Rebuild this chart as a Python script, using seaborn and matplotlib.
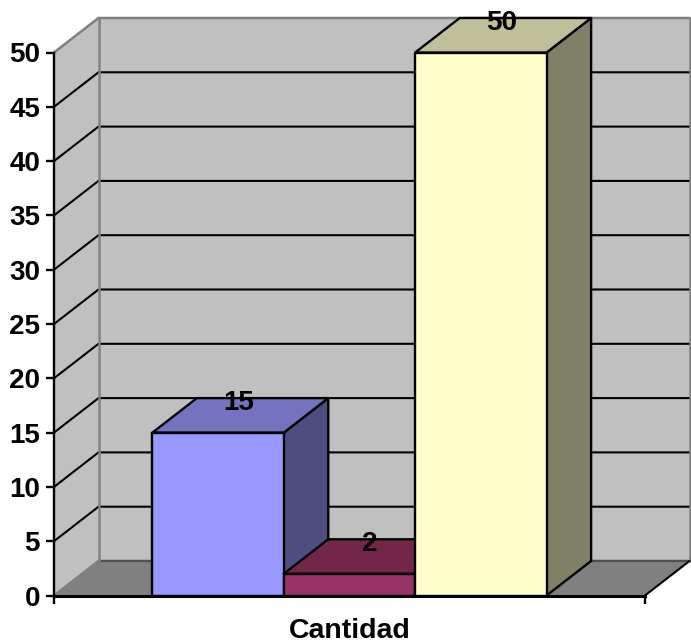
import matplotlib
matplotlib.use("Agg")
import matplotlib.pyplot as plt
import pandas as pd
import seaborn as sns

# Chart data
category = "Cantidad"
series_names = ["Serie 1", "Serie 2", "Serie 3"]
series_values = [15, 2, 50]
y_ticks = [0, 5, 10, 15, 20, 25, 30, 35, 40, 45, 50]

# Face colours: front, top, side
front_colors = ["#9999FF", "#993366", "#FFFFCC"]
top_colors = ["#7373BF", "#732648", "#BFBF99"]
side_colors = ["#4D4D80", "#4D1A33", "#808066"]
wall_color = "#C0C0C0"
floor_color = "#808080"
edge_gray = "#808080"

sns.set_theme(style="white")
plt.rcParams["font.family"] = ["Liberation Sans", "DejaVu Sans"]

W, H = 691, 640
fig = plt.figure(figsize=(W / 100, H / 100), dpi=100, facecolor="white")
ax = fig.add_axes([54.0 / W, (H - 595.5) / H, 591 / W, 543 / H])
ax.patch.set_alpha(0)

df = pd.DataFrame({"categoria": [category] * 3, "serie": series_names, "valor": series_values})
sns.barplot(
    data=df, x="categoria", y="valor", hue="serie", hue_order=series_names,
    palette=front_colors, saturation=1, width=0.667, gap=0, dodge=True,
    legend=False, edgecolor="black", linewidth=1.7, ax=ax,
)
ax.set_xlim(-0.5, 0.5)
ax.set_ylim(0, 50)

# Depth of the oblique projection, in data units
depth_x = 44.5 / 591
depth_y = 34.5 / 543 * 50

x0, x1 = -0.5, 0.5
ymax = y_ticks[-1]

# Floor, side wall and back wall
ax.fill([x0, x1, x1 + depth_x, x0 + depth_x], [0, 0, depth_y, depth_y],
        facecolor=floor_color, edgecolor="none", zorder=0.5, clip_on=False)
ax.fill([x0, x0 + depth_x, x0 + depth_x, x0], [0, depth_y, ymax + depth_y, ymax],
        facecolor=wall_color, edgecolor="none", zorder=0.5, clip_on=False)
ax.fill([x0 + depth_x, x1 + depth_x, x1 + depth_x, x0 + depth_x],
        [depth_y, depth_y, ymax + depth_y, ymax + depth_y],
        facecolor=wall_color, edgecolor="none", zorder=0.5, clip_on=False)

# Gridlines across the side wall and the back wall
for tick in y_ticks:
    inner = 0 < tick < ymax
    color = "black" if inner else edge_gray
    width = 1.5 if inner else 1.8
    ax.plot([x0, x0 + depth_x, x1 + depth_x], [tick, tick + depth_y, tick + depth_y],
            color=color, lw=width, zorder=1, clip_on=False, solid_joinstyle="miter")
ax.plot([x0 + depth_x, x1 + depth_x], [depth_y, depth_y], color="#505050", lw=1.6, zorder=1.05, clip_on=False)
ax.plot([x0 + depth_x] * 2, [depth_y, ymax + depth_y], color=edge_gray, lw=1.8, zorder=1.1, clip_on=False)
ax.plot([x1 + depth_x] * 2, [depth_y, ymax + depth_y], color=edge_gray, lw=1.8, zorder=1.1, clip_on=False)
ax.plot([x1, x1 + depth_x], [0, depth_y], color="black", lw=1.5, zorder=1.1, clip_on=False)

# Extrude each bar: side and top faces come from the bar's own geometry
bars = [c[0] for c in ax.containers]
for i, (bar, value) in enumerate(zip(bars, series_values)):
    left, right = bar.get_x(), bar.get_x() + bar.get_width()
    z = 2 + i
    bar.set_zorder(z + 0.5)
    ax.fill([right, right + depth_x, right + depth_x, right],
            [0, depth_y, value + depth_y, value],
            facecolor=side_colors[i], edgecolor="black", lw=1.7, zorder=z, clip_on=False,
            joinstyle="round")
    ax.fill([left, left + depth_x, right + depth_x, right],
            [value, value + depth_y, value + depth_y, value],
            facecolor=top_colors[i], edgecolor="black", lw=1.7, zorder=z, clip_on=False,
            joinstyle="round")
    ax.text((left + right) / 2 + depth_x / 2 - 0.003, value + depth_y - 0.45, str(value),
            ha="center", va="center", fontsize=20, fontweight="bold",
            color="black", zorder=10, clip_on=False)

# Axes frame and ticks
sns.despine(ax=ax, top=True, right=True)
for name in ("left", "bottom"):
    ax.spines[name].set_color("black")
    ax.spines[name].set_zorder(9)
ax.spines["left"].set_linewidth(1.7)
ax.spines["bottom"].set_linewidth(2.2)

ax.set_xlabel("")
ax.set_ylabel("")
ax.set_yticks(y_ticks)
ax.set_xticks([0])
ax.set_xticklabels([category])
ax.set_xticks([x0, x1], minor=True)
ax.tick_params(axis="y", left=True, length=6, width=1.7, color="black", pad=4,
               labelsize=20, labelcolor="black")
ax.tick_params(axis="x", which="major", bottom=False, pad=10, labelsize=20.5, labelcolor="black")
ax.tick_params(axis="x", which="minor", bottom=True, length=6, width=1.7, color="black")
for label in ax.get_xticklabels() + ax.get_yticklabels():
    label.set_fontweight("bold")
for label in ax.get_yticklabels():
    label.set_verticalalignment("center_baseline")

fig.savefig("out.png", dpi=100, facecolor="white")
